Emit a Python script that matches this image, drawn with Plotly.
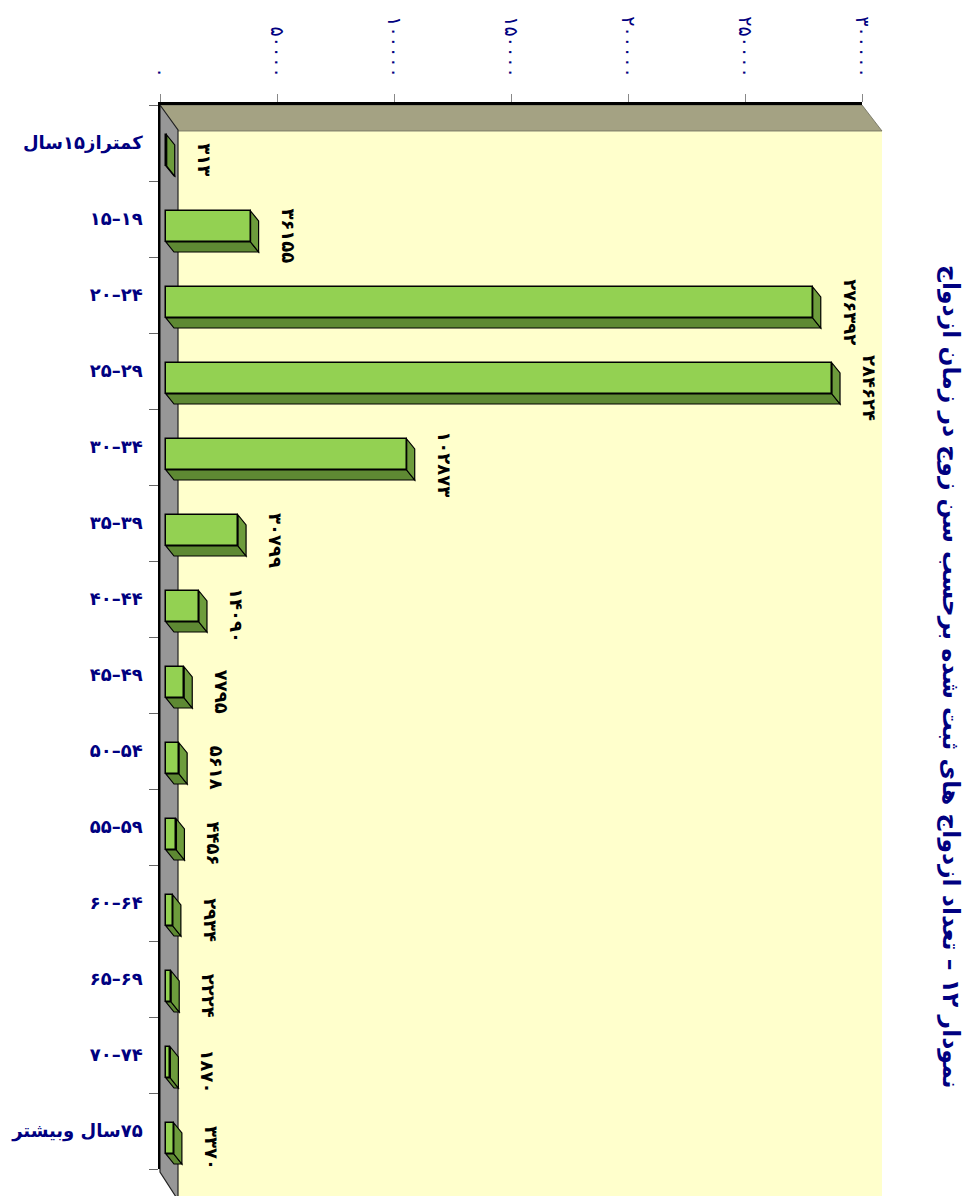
import plotly.graph_objects as go

# ---------------- data ----------------
categories = ["\u200Fکمتراز۱۵سال", "۱۵–۱۹", "۲۰–۲۴", "۲۵–۲۹", "۳۰–۳۴", "۳۵–۳۹", "۴۰–۴۴",
              "۴۵–۴۹", "۵۰–۵۴", "۵۵–۵۹", "۶۰–۶۴", "۶۵–۶۹", "۷۰–۷۴", "\u200F۷۵سال وبیشتر"]
values = [313, 36155, 276392, 284624, 102873, 30799, 14090, 7795, 5618, 4456, 2934, 2224, 1870, 3370]
x_ticks = [0, 50000, 100000, 150000, 200000, 250000, 300000]
title_text = "\u200Fنمودار ۱۲ – تعداد ازدواج های ثبت شده برحسب سن زوج در زمان ازدواج"

FA = str.maketrans("0123456789", "۰۱۲۳۴۵۶۷۸۹")
def fa(n):
    return str(n).translate(FA)

# ---------------- layout geometry (pixels) ----------------
W, H = 973, 1196
PAGE = 8                 # default body margin of the html page
RL, RT = 160, 105        # plot-area corner as seen on screen
PW, PH = 702, 1064
PL, PT = RL - PAGE, RT - PAGE
XMAX = 300000
NCAT = len(categories)

def px(xp):
    return (xp - RL) / PW

def py(yp):
    return 1 - (yp - RT) / PH

UX = XMAX / PW          # data units per pixel (x)
UY = NCAT / PH          # category units per pixel (y)
BASE = 6 * UX           # bars start slightly off the wall
DX, DY = 8 * UX, 10 * UY  # 3D depth
BOFF, BW = -8 * UY, 31 * UY

idx = list(range(NCAT))

FRONT = "#93D152"
BOTTOM = "#5E8933"
SIDE = "#6D9C3C"

fig = go.Figure()
fig.add_trace(go.Bar(
    x=values, y=idx, base=BASE, orientation="h",
    width=BW, offset=BOFF,
    marker=dict(color=FRONT, line=dict(color="black", width=1.5)),
    hoverinfo="skip",
))

shapes = []
# yellow back plane
shapes.append(dict(type="path", xref="paper", yref="paper", layer="below",
                   path=f"M {px(178)},{py(131)} L {px(882)},{py(131)} L {px(882)},{py(1200)} L {px(178)},{py(1200)} Z",
                   fillcolor="#FFFFCC", line=dict(width=0)))
# khaki top wall
shapes.append(dict(type="path", xref="paper", yref="paper", layer="below",
                   path=f"M {px(160)},{py(105)} L {px(862)},{py(105)} L {px(882)},{py(131)} L {px(178)},{py(131)} Z",
                   fillcolor="#A4A283", line=dict(color="#6b6b5a", width=0.8)))
# gray floor strip
shapes.append(dict(type="path", xref="paper", yref="paper", layer="below",
                   path=f"M {px(160)},{py(105)} L {px(178)},{py(130)} L {px(178)},{py(1200)} L {px(160)},{py(1172)} Z",
                   fillcolor="#979797", line=dict(color="#222222", width=1.2)))

# 3D depth faces of the bars
for i, v in enumerate(values):
    x0, x1 = BASE, BASE + v
    yt, yb = i + BOFF, i + BOFF + BW
    shapes.append(dict(type="path", xref="x", yref="y", layer="above",
                       path=f"M {x0},{yb} L {x1},{yb} L {x1 + DX},{yb + DY} L {x0 + DX},{yb + DY} Z",
                       fillcolor=BOTTOM, line=dict(color="black", width=1.2)))
    shapes.append(dict(type="path", xref="x", yref="y", layer="above",
                       path=f"M {x1},{yt} L {x1 + DX},{yt + DY} L {x1 + DX},{yb + DY} L {x1},{yb} Z",
                       fillcolor=SIDE, line=dict(color="black", width=1.2)))

annotations = []
for i, v in enumerate(values):
    annotations.append(dict(
        x=BASE + v, y=i, xref="x", yref="y", text=f"<b>{fa(v)}</b>",
        textangle=90, showarrow=False, xanchor="center", yanchor="middle",
        xshift=38, yshift=-17,
        font=dict(family="DejaVu Sans", size=18, color="black"),
    ))

annotations.append(dict(
    x=px(951), y=py(677), xref="paper", yref="paper",
    text=f"<b>{title_text}</b>", textangle=90, showarrow=False,
    xanchor="center", yanchor="middle",
    font=dict(family="DejaVu Sans", size=23.5, color="#000080"),
))

fig.update_layout(
    width=W, height=H,
    margin=dict(l=PL, r=W - PL - PW, t=PT, b=H - PT - PH, pad=0),
    paper_bgcolor="white", plot_bgcolor="rgba(0,0,0,0)",
    showlegend=False,
    shapes=shapes, annotations=annotations,
    bargap=0,
    xaxis=dict(
        side="top", range=[0, XMAX], tickvals=x_ticks,
        ticktext=[fa(t) for t in x_ticks], tickangle=90,
        ticks="outside", ticklen=8, tickcolor="#888888",
        ticklabelstandoff=10, automargin=False,
        tickfont=dict(family="DejaVu Sans", size=19, color="#000080"),
        showgrid=False, zeroline=False,
        showline=True, linecolor="black", linewidth=2.5,
    ),
    yaxis=dict(
        range=[NCAT - 0.5, -0.5], tickvals=idx, ticktext=[f"<b>{c}</b>" for c in categories],
        ticks="", ticklabelstandoff=12, automargin=False,
        tickfont=dict(family="DejaVu Sans", size=18, color="#000080"),
        minor=dict(tickvals=[k + 0.5 for k in range(-1, NCAT)], ticks="outside",
                   ticklen=9, tickcolor="#666666", showgrid=False),
        showgrid=False, zeroline=False,
        showline=True, linecolor="black", linewidth=1.5,
    ),
)

fig.write_html("out.html")
